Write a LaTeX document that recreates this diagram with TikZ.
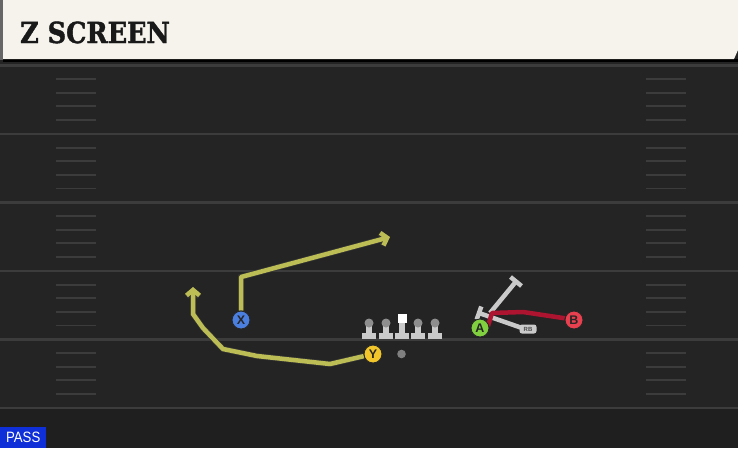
\documentclass[tikz,border=0pt]{standalone}
\usepackage{fontspec}
\setmainfont{DejaVu Serif}
\newfontfamily\titlefont{DejaVu Serif}[BoldFeatures={FakeBold=1.5}]
\newfontfamily\labfont{Liberation Sans}
\usetikzlibrary{arrows.meta}
\definecolor{fieldbg}{HTML}{242424}
\definecolor{fieldlow}{HTML}{1F1F1F}
\definecolor{fieldline}{HTML}{3C3C3C}
\definecolor{hdr}{HTML}{F5F3EC}
\definecolor{routey}{HTML}{BDBD55}
\definecolor{router}{HTML}{AD1430}
\definecolor{blockc}{HTML}{CACACA}
\definecolor{headc}{HTML}{8E8E8E}
\definecolor{pX}{HTML}{4A7FE0}
\definecolor{pY}{HTML}{F2C62A}
\definecolor{pA}{HTML}{80D040}
\definecolor{pB}{HTML}{E8404F}
\definecolor{passblue}{HTML}{0F2FD8}
\tikzset{
  player/.style={circle, draw=black!85, line width=0.9pt, minimum size=18pt, inner sep=0pt, font=\labfont\bfseries\fontsize{12.5}{12.5}\selectfont, text=black!85},
  yroute/.style={draw=routey, line width=4.5pt, line join=round, preaction={draw=black!80, line width=6pt}},
  rroute/.style={draw=router, line width=4.5pt, line join=round},
  blockline/.style={draw=blockc, line width=4.5pt},
  fline/.style={draw=fieldline, line width=2.8pt},
  hash/.style={draw=fieldline, line width=1.8pt},
  lineman/.pic={
    \fill[blockc] (-7,333) rectangle (7,338.5);
    \fill[blockc] (-2.7,323) rectangle (2.7,335);
    \fill[headc] (0,323) circle (4.5);
  }
}
\begin{document}
\begin{tikzpicture}[x=1pt,y=-1pt]
\useasboundingbox (0,0) rectangle (738,448);
% field
\fill[fieldbg] (0,0) rectangle (738,448);
\fill[fieldlow] (0,409) rectangle (738,448);
\foreach \yy in {65.5,134,202.5,271,339.5,408}
  \draw[fline] (0,\yy) -- (738,\yy);
\foreach \b in {65.5,134,202.5,271,339.5}
  \foreach \k in {1,2,3,4} {
    \draw[hash] (56,\b+13.6*\k) -- (96,\b+13.6*\k);
    \draw[hash] (646,\b+13.6*\k) -- (686,\b+13.6*\k);
  }
% header
\fill[black!60] (0,0) rectangle (3,60);
\fill[black] (3,59) rectangle (738,61.5);
\fill[hdr] (3,0) -- (738,0) -- (738,50) -- (734,59) -- (3,59) -- cycle;
\node[anchor=base west, inner sep=0pt, text=black!90] (title) at (20,43)
  {\scalebox{0.88}[1]{\titlefont\bfseries\fontsize{29}{29}\selectfont Z SCREEN}};
% PASS tag
\node[anchor=south west, fill=passblue, text=white, inner sep=0pt, minimum width=46pt, minimum height=21pt, font=\labfont\fontsize{15}{15}\selectfont] (pass) at (0,448) {\scalebox{0.88}[1]{PASS}};
% offensive line
\pic at (369,0) {lineman};
\pic at (386,0) {lineman};
\pic at (418,0) {lineman};
\pic at (435,0) {lineman};
\fill[blockc] (395,333) rectangle (409,338.5);
\fill[blockc] (399.3,320) rectangle (404.7,335);
\fill[white] (397.5,313.5) rectangle (406.5,322.5);
\fill[black!50] (401.5,354) circle (4.3);
% players
\node[player, fill=pX] (X) at (241,320) {X};
\node[player, fill=pY] (Y) at (373,354) {Y};
\node[player, fill=pA] (A) at (480,328) {A};
\node[player, fill=pB] (B) at (574,320) {B};
% blocking assignments
\coordinate (b1s) at (490,313);
\coordinate (b1e) at (516,281.5);
\coordinate (b1c1) at (510.5,277);
\coordinate (b1c2) at (521.5,286);
\draw[blockline] (b1s) -- (b1e);
\draw[blockline] (b1c1) -- (b1c2);
\coordinate (b2s) at (522,328);
\coordinate (b2e) at (479,313);
\coordinate (b2c1) at (481.3,306.5);
\coordinate (b2c2) at (476.7,319.5);
\draw[blockline] (b2s) -- (b2e);
\draw[blockline] (b2c1) -- (b2c2);
\node[fill=blockc, rounded corners=2.5pt, minimum width=17pt, minimum height=9pt, inner sep=0pt, text=black!70, font=\labfont\bfseries\fontsize{6}{6}\selectfont] (rb) at (528,329) {RB};
% routes
\coordinate (x1) at (241,277);
\coordinate (x2) at (390,237);
\draw[yroute, -{Straight Barb[length=5.5pt,width=13pt]}] (X) -- (x1) -- (x2);
\coordinate (y1) at (330,364);
\coordinate (y2) at (257,356);
\coordinate (y3) at (223,349);
\coordinate (y4) at (203,328);
\coordinate (y5) at (193,314);
\coordinate (y6) at (193,287);
\draw[yroute, -{Straight Barb[length=5.5pt,width=13pt]}] (Y) -- (y1) -- (y2) -- (y3) -- (y4) -- (y5) -- (y6);
\coordinate (r0) at (488,326);
\coordinate (r1) at (492,313);
\coordinate (r2) at (523,312);
\coordinate (r3) at (563,318);
\draw[rroute] (r0) -- (r1) -- (r2) -- (r3) -- (B);
% redraw players on top
\node[player, fill=pX] at (X) {X};
\node[player, fill=pY] at (Y) {Y};
\node[player, fill=pA] at (A) {A};
\node[player, fill=pB] at (B) {B};
\end{tikzpicture}
\end{document}
